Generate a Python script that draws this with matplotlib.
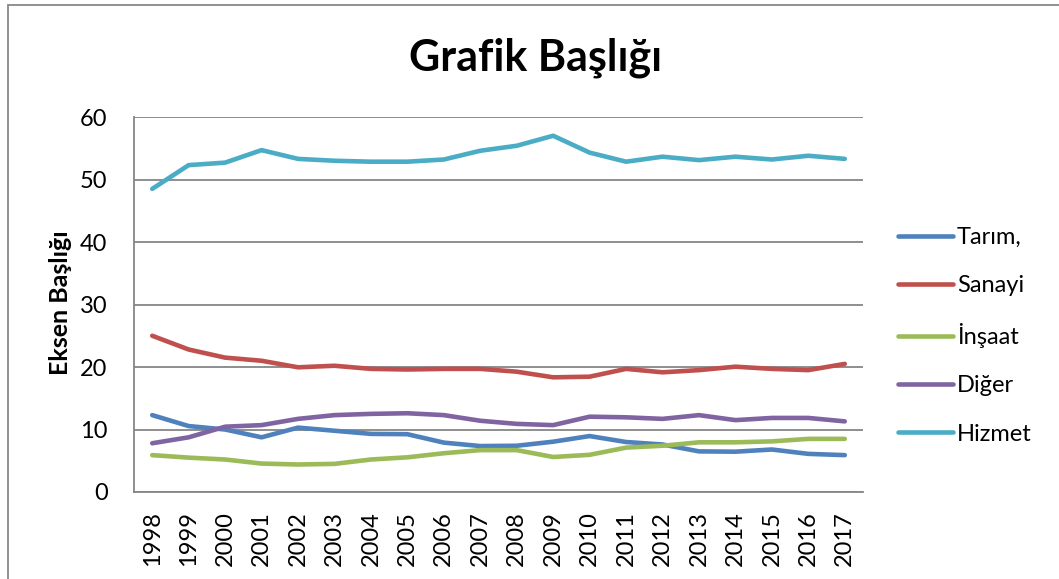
import matplotlib
matplotlib.use("Agg")
import matplotlib.pyplot as plt
from matplotlib.patches import Rectangle

years = [str(y) for y in range(1998, 2018)]
tarim = [12.3, 10.55, 10.0, 8.75, 10.3, 9.8, 9.3, 9.25, 7.9, 7.35,
         7.4, 8.05, 8.95, 8.0, 7.6, 6.5, 6.45, 6.8, 6.1, 5.9]
sanayi = [25.0, 22.8, 21.5, 21.0, 19.95, 20.2, 19.7, 19.6, 19.7, 19.7,
          19.25, 18.35, 18.45, 19.7, 19.15, 19.5, 20.05, 19.7, 19.5, 20.5]
insaat = [5.9, 5.5, 5.2, 4.55, 4.4, 4.5, 5.2, 5.55, 6.2, 6.7,
          6.7, 5.6, 5.95, 7.1, 7.4, 7.95, 7.95, 8.1, 8.5, 8.5]
diger = [7.8, 8.75, 10.45, 10.7, 11.7, 12.3, 12.5, 12.6, 12.3, 11.4,
         10.9, 10.7, 12.05, 11.95, 11.7, 12.3, 11.5, 11.85, 11.85, 11.3]
hizmet = [48.5, 52.3, 52.7, 54.7, 53.3, 53.0, 52.85, 52.85, 53.2, 54.6,
          55.4, 57.0, 54.3, 52.85, 53.65, 53.1, 53.65, 53.2, 53.8, 53.3]
series_names = ["Tarım,", "Sanayi", "İnşaat", "Diğer", "Hizmet"]
colors = ["#4F81BD", "#C0504D", "#9BBB59", "#8064A2", "#4BACC6"]
yticks = [0, 10, 20, 30, 40, 50, 60]

plt.rcParams['font.family'] = ['Lato', 'DejaVu Sans']

W, H = 1059, 579
fig = plt.figure(figsize=(W / 100, H / 100), dpi=100)
fig.patches.append(Rectangle((8 / W, -0.2), 1.2, 1.2 - 5 / H, transform=fig.transFigure,
                             fill=False, edgecolor="#888888", linewidth=1.3, zorder=0))

ax = fig.add_axes([134 / W, 1 - 492 / H, (863 - 134) / W, (492 - 117) / H])
x = list(range(len(years)))
for name, vals, c in zip(series_names, [tarim, sanayi, insaat, diger, hizmet], colors):
    ax.plot(x, vals, color=c, linewidth=3.3, solid_capstyle="round",
            solid_joinstyle="round", label=name, zorder=3)

ax.set_xlim(-0.5, len(years) - 0.5)
ax.set_ylim(0, 60)
ax.set_yticks(yticks)
ax.set_yticklabels([str(v) for v in yticks], fontsize=17)
ax.set_xticks(x)
ax.set_xticklabels(years, rotation=90, fontsize=17)
ax.grid(axis="y", color="#868686", linewidth=1.3, zorder=0)
for s in ["top", "right"]:
    ax.spines[s].set_visible(False)
for s in ["left", "bottom"]:
    ax.spines[s].set_color("#868686")
    ax.spines[s].set_linewidth(1.3)
ax.tick_params(axis="both", length=0)
ax.tick_params(axis="y", pad=19)
ax.tick_params(axis="x", pad=14)

ax.set_ylabel("Eksen Başlığı", fontsize=18, fontweight="bold")
ax.yaxis.set_label_coords((72 - 134) / (863 - 134), 0.505)
fig.text(536 / W, 1 - 58 / H, "Grafik Başlığı", fontsize=31, fontweight="bold",
         ha="center", va="center")

leg = ax.legend(loc="upper left", bbox_to_anchor=(898 / W, 1 - 227 / H),
                bbox_transform=fig.transFigure, frameon=False, fontsize=17,
                handlelength=2.35, handletextpad=0.15, labelspacing=1.15,
                borderaxespad=0, borderpad=0)
for line in leg.get_lines():
    line.set_solid_capstyle("round")

fig.savefig("out.png", dpi=100)
